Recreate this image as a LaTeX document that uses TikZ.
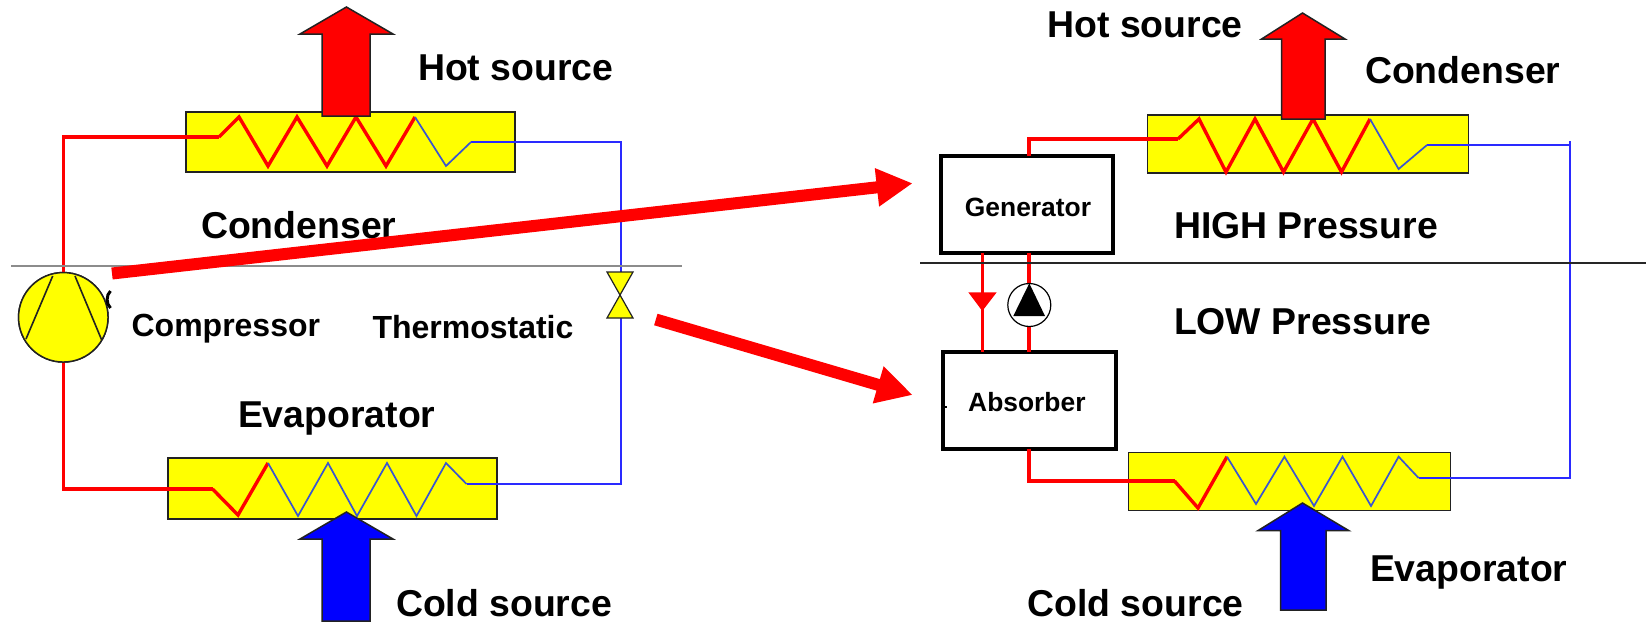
\documentclass[tikz,border=0pt]{standalone}
\usepackage{fontspec}
\setmainfont{Liberation Sans}
\usetikzlibrary{arrows.meta}
\definecolor{zzblue}{HTML}{3A55D0}
\definecolor{pipeblue}{HTML}{2A2AFF}
\definecolor{hxedge}{HTML}{222222}
\definecolor{hxfill}{RGB}{255,255,0}
\definecolor{hotred}{RGB}{255,0,0}
\definecolor{coldblue}{RGB}{0,0,255}
\definecolor{levelgray}{RGB}{140,140,140}
\tikzset{
  hxbox/.style={draw=hxedge,line width=1.6pt,fill=hxfill,inner sep=0pt,outer sep=0pt},
  unitbox/.style={draw=black,line width=4pt,fill=white,inner sep=0pt,outer sep=0pt},
  bigtxt/.style={inner sep=0pt,outer sep=0pt,anchor=base west,xshift=-2pt,yshift=-1pt,font=\fontsize{37.4}{40}\selectfont\bfseries},
  midtxt/.style={inner sep=0pt,outer sep=0pt,anchor=base west,xshift=-2pt,yshift=-1pt,font=\fontsize{32}{35}\selectfont\bfseries},
  smalltxt/.style={inner sep=0pt,xshift=-1pt,font=\fontsize{26.4}{30}\selectfont\bfseries},
  redpipe/.style={draw=hotred,line width=3.6pt,line join=miter},
  bluepipe/.style={draw=pipeblue,line width=2pt,line join=miter},
  redzig/.style={draw=hotred,line width=3.4pt,line join=miter},
  bluezig/.style={draw=zzblue,line width=1.7pt,line join=miter},
  hotarrow/.style={draw=hxedge,line width=1.5pt,fill=hotred,line join=miter},
  coldarrow/.style={draw=hxedge,line width=1.5pt,fill=coldblue,line join=miter},
  levelline/.style={line width=2pt},
  bigarrow/.style={draw=hotred,line width=12pt,-{Triangle[length=36pt,width=36pt,fill=hotred]}},
  compbody/.style={circle,draw=hxedge,line width=1.5pt,fill=hxfill,minimum size=89.5pt,inner sep=0pt,outer sep=0pt},
}
\begin{document}
\begin{tikzpicture}[x=1pt,y=-1pt]
\useasboundingbox (0,0) rectangle (1646,622);
% ---------- named points ----------
\coordinate (LCi) at (219,137);
\coordinate (LCo) at (471,142);
\coordinate (LEi) at (212.5,489);
\coordinate (LEo) at (466.5,484);
\coordinate (Vt) at (620.5,272);
\coordinate (Vb) at (620.5,318);
\coordinate (RCi) at (1178,139);
\coordinate (RCo) at (1427,145);
\coordinate (REi) at (1174.5,481);
\coordinate (REo) at (1418.6,478);
\coordinate (Rc) at (1570,145);
\coordinate (LineLa) at (11,266);
\coordinate (LineLb) at (682,266);
\coordinate (LineRa) at (920,262.7);
\coordinate (LineRb) at (1646,262.7);
\coordinate (A1s) at (112,273.5);
\coordinate (A1e) at (912.7,183.3);
\coordinate (A2s) at (655.8,319.5);
\coordinate (A2e) at (912.7,395);
\coordinate (PumpT) at (1028.7,283);
\coordinate (PumpB) at (1028.7,326);
% ---------- heat exchangers ----------
\node[hxbox,minimum width=328.8pt,minimum height=59.6pt] (LCond) at (350.5,142) {};
\node[hxbox,minimum width=328.8pt,minimum height=60.6pt] (LEvap) at (332.5,488.5) {};
\node[hxbox,minimum width=320.8pt,minimum height=57.6pt] (RCond) at (1308,144) {};
\node[hxbox,minimum width=321.8pt,minimum height=58pt] (REvap) at (1289.5,481.5) {};
% ---------- units ----------
\node[unitbox,minimum width=172.5pt,minimum height=96.7pt] (Gen) at (1027.2,204.3) {};
\node[unitbox,minimum width=172.5pt,minimum height=96.7pt] (Abs) at (1029.7,400.3) {};
\node[smalltxt,anchor=base west] (GenT) at (965.7,216) {Generator};
\node[smalltxt,anchor=base west] (AbsT) at (969,411.7) {Absorber};
% ---------- compressor ----------
\node[compbody] (Comp) at (63.3,317.3) {};
% ---------- pipes ----------
\draw[redpipe] (Comp.north) -- ++(0,-3) |- (LCi);
\draw[redpipe] (Comp.south) |- (LEi);
\draw[bluepipe] (LCo) -| (Vt);
\draw[bluepipe] (Vb) |- (LEo);
\draw[redpipe] (Gen.north -| 1028.7,0) |- (RCi);
\draw[redpipe] (Abs.south -| 1028.7,0) |- (REi);
\draw[bluepipe] (RCo) -- (Rc) |- (REo);
\draw[bluepipe] (1570,141) -- (Rc);
% compressor again, above the pipes
\node[compbody] (CompTop) at (63.3,317.3) {};
\draw[hxedge,line width=1.6pt] (52.7,276) -- (26,339);
\draw[hxedge,line width=1.6pt] (75,276) -- (101.7,340);
\draw[black,line width=3pt] (110.5,291) .. controls (106,295) and (106,304) .. (110.5,308);
% ---------- zig-zags ----------
\draw[redzig] (LCi) -- (239,117) -- (268,166) -- (297,117) -- (327,166) -- (356,117) -- (386,166) -- (415,117);
\draw[bluezig] (415,117) -- (446,166) -- (LCo);
\draw[redzig] (LEi) -- (238,515) -- (268,463);
\draw[bluezig] (268,463) -- (298,516) -- (328,463) -- (357,516) -- (387,463) -- (416.5,516) -- (446,463) -- (LEo);
\draw[redzig] (RCi) -- (1199,119) -- (1226,172) -- (1255,119) -- (1283.5,172) -- (1313,119) -- (1341.5,172) -- (1370,119);
\draw[bluezig] (1370,119) -- (1398.6,169) -- (RCo);
\draw[redzig] (REi) -- (1198,508) -- (1227,456.7);
\draw[bluezig] (1227,456.7) -- (1256,504) -- (1284.4,456.7) -- (1314,506) -- (1342.5,456.7) -- (1371,506) -- (1398.6,456.7) -- (REo);
% ---------- valve ----------
\draw[hxedge,line width=1.2pt,fill=hxfill,line join=miter] (Vt -| 607,0) -- (Vt -| 633,0) -- (Vb -| 607,0) -- (Vb -| 633,0) -- cycle;
% ---------- heat arrows ----------
\draw[hotarrow] (322,116) -- (322,34) -- (300,34) -- (346.4,7) -- (393,34) -- (370,34) -- (370,116) -- cycle;
\draw[coldarrow] (322,621) -- (322,539) -- (300,539) -- (346.4,512) -- (393,539) -- (370,539) -- (370,621) -- cycle;
\draw[hotarrow] (1281.6,119) -- (1281.6,39) -- (1261.6,39) -- (1302.5,13) -- (1345,39) -- (1325,39) -- (1325,119) -- cycle;
\draw[coldarrow] (1280.6,610) -- (1280.6,530.7) -- (1257.8,530.7) -- (1302.5,503) -- (1349,530.7) -- (1326,530.7) -- (1326,610) -- cycle;
% ---------- pump and expansion ----------
\draw[redpipe] (Gen.south -| 982.3,0) -- (Abs.north -| 982.3,0);
\fill[hotred] (968.3,292.3) -- (996.7,292.3) -- (982.3,311) -- cycle;
\draw[redpipe] (Gen.south -| 1028.7,0) -- (PumpT);
\draw[redpipe] (PumpB) -- (Abs.north -| 1028.7,0);
\node[circle,draw=black,line width=1.2pt,fill=white,minimum size=43pt,inner sep=0pt,outer sep=0pt] (Pump) at (1029.3,305) {};
\fill[black] (1029.3,283.3) -- (1045,316) -- (1013.3,316) -- cycle;
\draw[black,line width=2pt] (944.5,406.7) -- (947,406.7);
% ---------- level lines ----------
\draw[levelline,draw=levelgray] (LineLa) -- (LineLb);
\draw[levelline,draw=black!85] (LineRa) -- (LineRb);
% ---------- labels ----------
\node[bigtxt] (t1) at (420,79) {Hot source};
\node[bigtxt] (t2) at (203,237) {Condenser};
\node[midtxt] (t3) at (133.6,335) {Compressor};
\node[midtxt] (t4) at (374.5,337) {Thermostatic};
\node[bigtxt] (t5) at (240,426) {Evaporator};
\node[bigtxt] (t6) at (398,615.5) {Cold source};
\node[bigtxt] (t7) at (1049.4,36) {Hot source};
\node[bigtxt] (t8) at (1367,82) {Condenser};
\node[bigtxt] (t9) at (1176,237.3) {HIGH Pressure};
\node[bigtxt] (t10) at (1176,333) {LOW Pressure};
\node[bigtxt] (t11) at (1372,580.7) {Evaporator};
\node[bigtxt] (t12) at (1029.5,615.5) {Cold source};
% ---------- big comparison arrows ----------
\draw[bigarrow] (A1s) -- (A1e);
\draw[bigarrow] (A2s) -- (A2e);
\end{tikzpicture}
\end{document}
